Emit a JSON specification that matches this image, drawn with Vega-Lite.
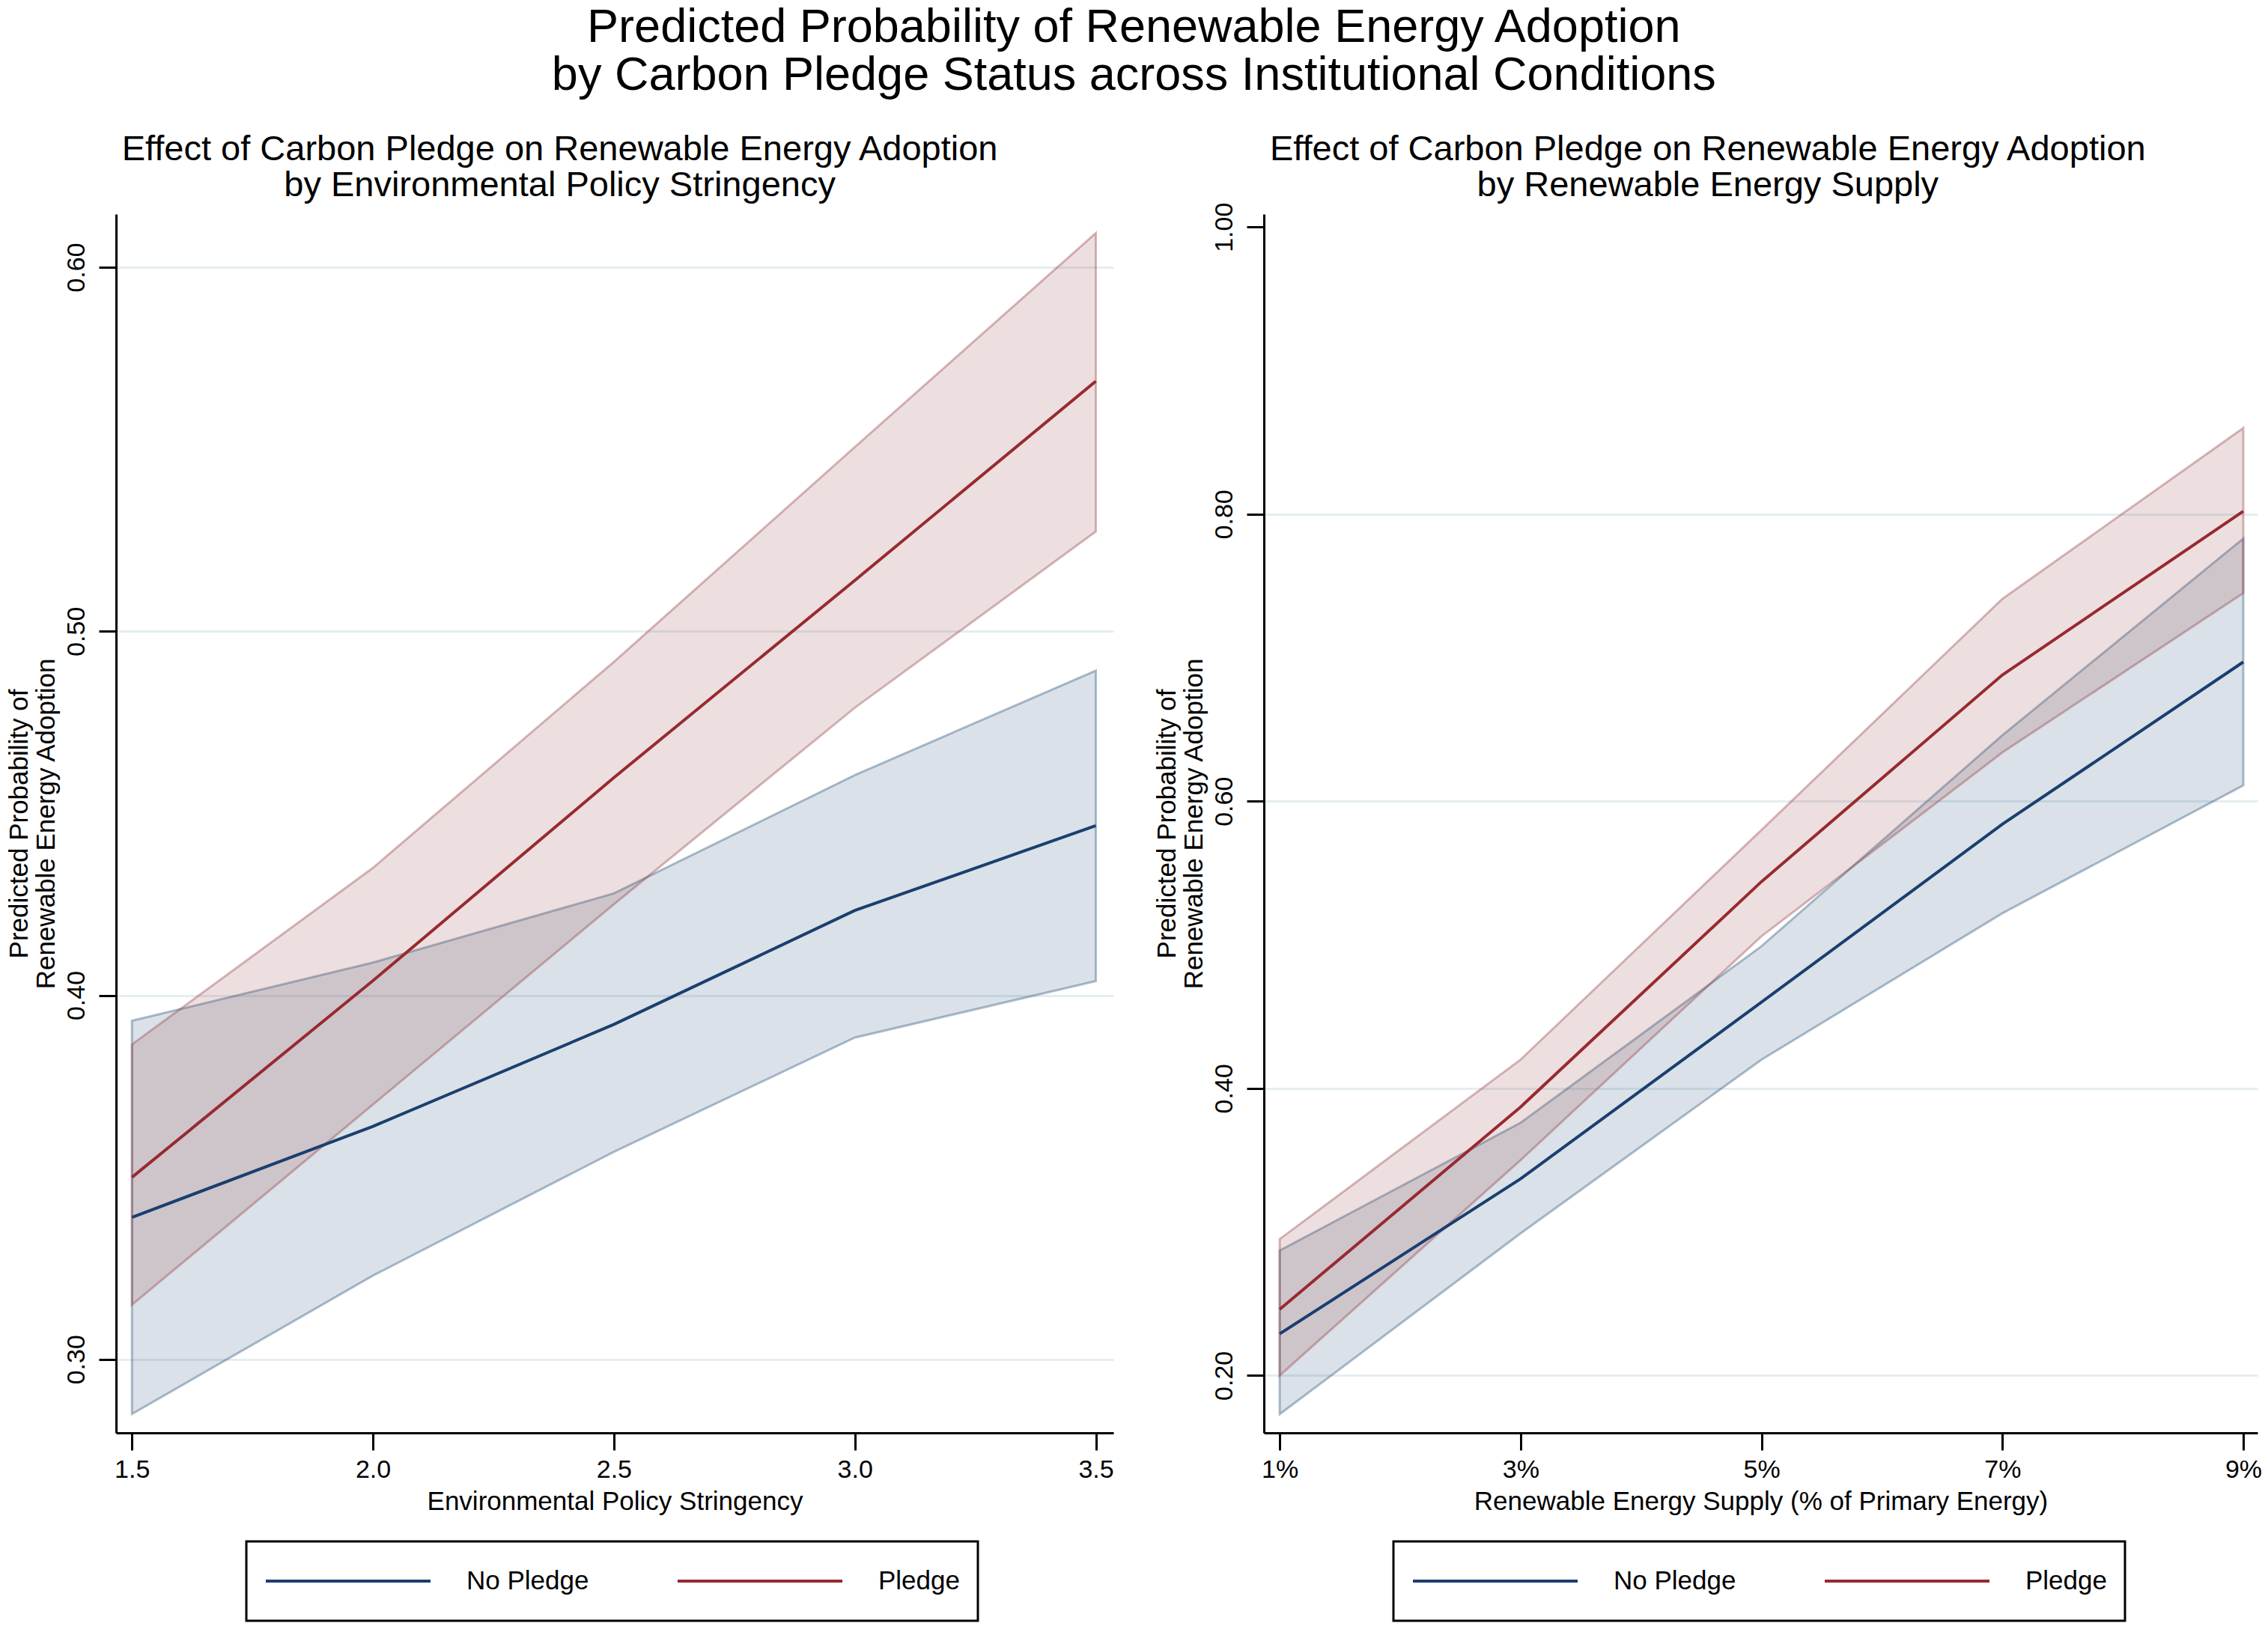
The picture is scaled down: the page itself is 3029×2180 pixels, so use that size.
{
  "$schema": "https://vega.github.io/schema/vega-lite/v6.json",
  "description": "Predicted probability of renewable energy adoption by carbon pledge status",
  "padding": {"left": 8, "top": 6, "right": 12, "bottom": 10},
  "background": "white",
  "title": {
    "text": ["Predicted Probability of Renewable Energy Adoption", "by Carbon Pledge Status across Institutional Conditions"],
    "font": "Liberation Sans",
    "fontSize": 63,
    "fontWeight": "normal",
    "lineHeight": 64,
    "color": "black",
    "anchor": "middle",
    "offset": 43
  },
  "datasets": {
    "eps": [
      {"x": 1.5, "group": "No Pledge", "fit": 0.339, "lo": 0.285, "hi": 0.393},
      {"x": 2.0, "group": "No Pledge", "fit": 0.364, "lo": 0.323, "hi": 0.409},
      {"x": 2.5, "group": "No Pledge", "fit": 0.392, "lo": 0.357, "hi": 0.428},
      {"x": 3.0, "group": "No Pledge", "fit": 0.4233, "lo": 0.3884, "hi": 0.4605},
      {"x": 3.5, "group": "No Pledge", "fit": 0.4466, "lo": 0.4039, "hi": 0.4892},
      {"x": 1.5, "group": "Pledge", "fit": 0.350, "lo": 0.315, "hi": 0.3865},
      {"x": 2.0, "group": "Pledge", "fit": 0.404, "lo": 0.370, "hi": 0.435},
      {"x": 2.5, "group": "Pledge", "fit": 0.4598, "lo": 0.425, "hi": 0.4916},
      {"x": 3.0, "group": "Pledge", "fit": 0.514, "lo": 0.479, "hi": 0.5506},
      {"x": 3.5, "group": "Pledge", "fit": 0.5687, "lo": 0.5274, "hi": 0.6094}
    ],
    "res": [
      {"x": 1, "group": "No Pledge", "fit": 0.229, "lo": 0.173, "hi": 0.287},
      {"x": 3, "group": "No Pledge", "fit": 0.337, "lo": 0.299, "hi": 0.376},
      {"x": 5, "group": "No Pledge", "fit": 0.460, "lo": 0.420, "hi": 0.499},
      {"x": 7, "group": "No Pledge", "fit": 0.584, "lo": 0.522, "hi": 0.646},
      {"x": 9, "group": "No Pledge", "fit": 0.697, "lo": 0.611, "hi": 0.783},
      {"x": 1, "group": "Pledge", "fit": 0.246, "lo": 0.200, "hi": 0.295},
      {"x": 3, "group": "Pledge", "fit": 0.387, "lo": 0.350, "hi": 0.420},
      {"x": 5, "group": "Pledge", "fit": 0.544, "lo": 0.506, "hi": 0.580},
      {"x": 7, "group": "Pledge", "fit": 0.688, "lo": 0.634, "hi": 0.741},
      {"x": 9, "group": "Pledge", "fit": 0.802, "lo": 0.745, "hi": 0.860}
    ]
  },
  "spacing": 53,
  "hconcat": [
    {
      "width": 1332,
      "height": 1628,
      "title": {
        "text": ["Effect of Carbon Pledge on Renewable Energy Adoption", "by Environmental Policy Stringency"],
        "offset": 14
      },
      "data": {"name": "eps"},
      "encoding": {
        "x": {
          "field": "x",
          "type": "quantitative",
          "scale": {"domain": [1.467, 3.5365], "nice": false, "zero": false},
          "axis": {"values": [1.5, 2, 2.5, 3, 3.5], "format": ".1f", "grid": false, "title": "Environmental Policy Stringency"}
        }
      },
      "layer": [
        {
          "transform": [{"filter": "datum.group === 'No Pledge'"}],
          "mark": {"type": "area", "fill": "#1a476f", "fillOpacity": 0.16, "stroke": "#1a476f", "strokeOpacity": 0.35, "strokeWidth": 3},
          "encoding": {
            "y": {
              "field": "lo",
              "type": "quantitative",
              "scale": {"domain": [0.2798, 0.6146], "nice": false, "zero": false},
              "axis": {"values": [0.3, 0.4, 0.5, 0.6], "format": ".2f", "labelAngle": -90, "grid": true, "title": ["Predicted Probability of", "Renewable Energy Adoption"]}
            },
            "y2": {"field": "hi"}
          }
        },
        {
          "transform": [{"filter": "datum.group === 'Pledge'"}],
          "mark": {"type": "area", "fill": "#90353b", "fillOpacity": 0.16, "stroke": "#90353b", "strokeOpacity": 0.35, "strokeWidth": 3},
          "encoding": {
            "y": {"field": "lo", "type": "quantitative"},
            "y2": {"field": "hi"}
          }
        },
        {
          "mark": {"type": "line", "strokeWidth": 4},
          "encoding": {
            "y": {"field": "fit", "type": "quantitative"},
            "color": {
              "field": "group",
              "type": "nominal",
              "scale": {"domain": ["No Pledge", "Pledge"], "range": ["#1a3f6f", "#982a30"]},
              "legend": {"orient": "none", "legendX": 174, "legendY": 1773}
            }
          }
        }
      ]
    },
    {
      "width": 1327,
      "height": 1628,
      "title": {
        "text": ["Effect of Carbon Pledge on Renewable Energy Adoption", "by Renewable Energy Supply"],
        "offset": -2
      },
      "data": {"name": "res"},
      "encoding": {
        "x": {
          "field": "x",
          "type": "quantitative",
          "scale": {"domain": [0.869, 9.118], "nice": false, "zero": false},
          "axis": {"values": [1, 3, 5, 7, 9], "labelExpr": "datum.value + '%'", "grid": false, "title": "Renewable Energy Supply (% of Primary Energy)"}
        }
      },
      "layer": [
        {
          "transform": [{"filter": "datum.group === 'No Pledge'"}],
          "mark": {"type": "area", "fill": "#1a476f", "fillOpacity": 0.16, "stroke": "#1a476f", "strokeOpacity": 0.35, "strokeWidth": 3},
          "encoding": {
            "y": {
              "field": "lo",
              "type": "quantitative",
              "scale": {"domain": [0.16, 1.009], "nice": false, "zero": false},
              "axis": {
                "values": [0.2, 0.4, 0.6, 0.8, 1.0],
                "format": ".2f",
                "labelAngle": -90,
                "grid": true,
                "gridColor": {"condition": {"test": "datum.value > 0.95", "value": "transparent"}, "value": "#e4eef1"},
                "title": ["Predicted Probability of", "Renewable Energy Adoption"]
              }
            },
            "y2": {"field": "hi"}
          }
        },
        {
          "transform": [{"filter": "datum.group === 'Pledge'"}],
          "mark": {"type": "area", "fill": "#90353b", "fillOpacity": 0.16, "stroke": "#90353b", "strokeOpacity": 0.35, "strokeWidth": 3},
          "encoding": {
            "y": {"field": "lo", "type": "quantitative"},
            "y2": {"field": "hi"}
          }
        },
        {
          "mark": {"type": "line", "strokeWidth": 4},
          "encoding": {
            "y": {"field": "fit", "type": "quantitative"},
            "color": {
              "field": "group",
              "type": "nominal",
              "scale": {"domain": ["No Pledge", "Pledge"], "range": ["#1a3f6f", "#982a30"]},
              "legend": {"orient": "none", "legendX": 173, "legendY": 1773}
            }
          }
        }
      ]
    }
  ],
  "resolve": {"scale": {"color": "independent"}, "legend": {"color": "independent"}},
  "config": {
    "view": {"stroke": null},
    "font": "Liberation Sans",
    "title": {
      "font": "Liberation Sans",
      "fontSize": 47,
      "fontWeight": "normal",
      "lineHeight": 48,
      "color": "black",
      "anchor": "middle",
      "frame": "bounds",
      "offset": 20
    },
    "axis": {
      "labelFont": "Liberation Sans",
      "labelFontSize": 34,
      "labelColor": "black",
      "titleFont": "Liberation Sans",
      "titleFontSize": 35,
      "titleFontWeight": "normal",
      "titleColor": "black",
      "titleLineHeight": 36,
      "domainColor": "black",
      "domainWidth": 3,
      "tickColor": "black",
      "tickWidth": 3,
      "tickSize": 23,
      "gridColor": "#e4eef1",
      "gridWidth": 3
    },
    "axisX": {"labelPadding": 9, "titlePadding": 8},
    "axisY": {"labelPadding": 13, "titlePadding": 6},
    "legend": {
      "title": null,
      "direction": "horizontal",
      "symbolType": "stroke",
      "symbolSize": 48400,
      "symbolStrokeWidth": 4,
      "clipHeight": 58,
      "labelFont": "Liberation Sans",
      "labelFontSize": 35,
      "labelColor": "black",
      "labelLimit": 400,
      "labelOffset": 46,
      "columnPadding": 116,
      "padding": 24,
      "strokeColor": "black",
      "strokeWidth": 3
    }
  }
}
